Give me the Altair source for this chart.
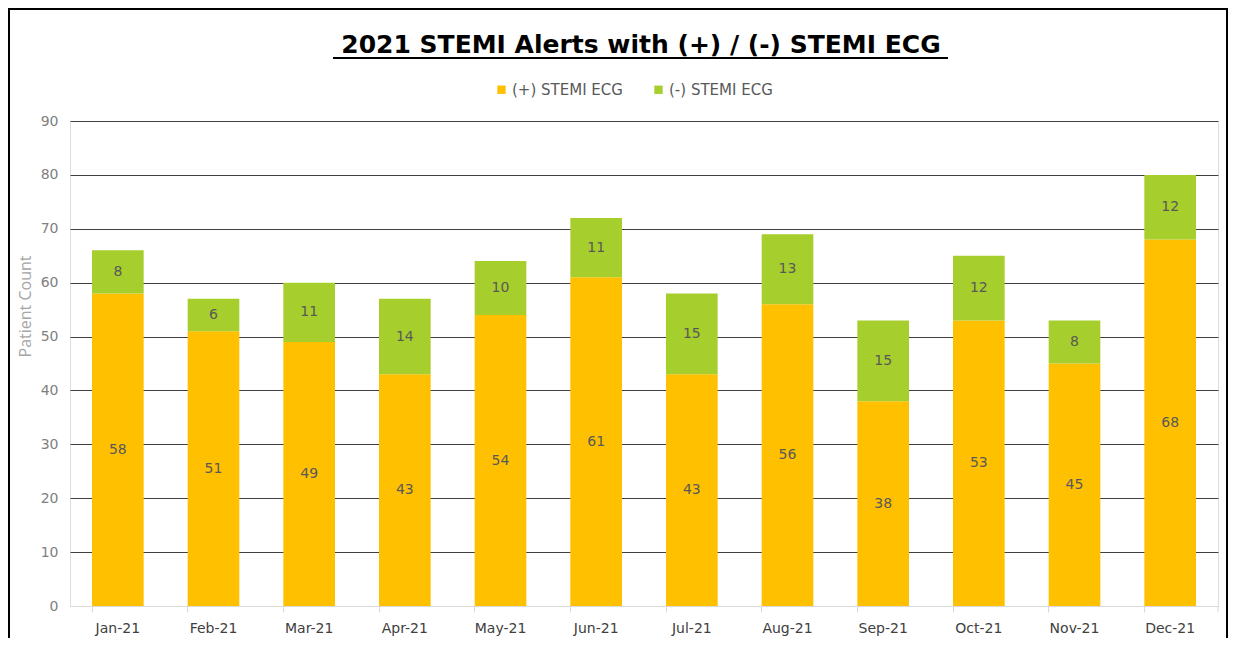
import altair as alt
import pandas as pd

months = ["Jan-21", "Feb-21", "Mar-21", "Apr-21", "May-21", "Jun-21",
          "Jul-21", "Aug-21", "Sep-21", "Oct-21", "Nov-21", "Dec-21"]
positive = [58, 51, 49, 43, 54, 61, 43, 56, 38, 53, 45, 68]
negative = [8, 6, 11, 14, 10, 11, 15, 13, 15, 12, 8, 12]
series_names = ["(+) STEMI ECG", "(-) STEMI ECG"]
series_colors = ["#FFC000", "#A6CE2C"]
y_ticks = [0, 10, 20, 30, 40, 50, 60, 70, 80, 90]
title_text = "2021 STEMI Alerts with (+) / (-) STEMI ECG"

rows = []
for m, p, n in zip(months, positive, negative):
    rows.append({"month": m, "series": series_names[0], "value": p, "ord": 0})
    rows.append({"month": m, "series": series_names[1], "value": n, "ord": 1})
df = pd.DataFrame(rows)

W, H = 1148, 485
FONT = "DejaVu Sans"

x_enc = alt.X("month:N", sort=months, title=None,
              scale=alt.Scale(paddingInner=0.46, paddingOuter=0.23),
              axis=alt.Axis(labelAngle=0, labelColor="#404040", labelFontSize=14,
                            labelFont=FONT, labelPadding=9,
                            domainColor="#d9d9d9", tickColor="#d9d9d9",
                            tickSize=6, bandPosition=0, grid=False))

base = alt.Chart(df).transform_stack(
    stack="value", groupby=["month"], sort=[alt.SortField("ord")], as_=["v0", "v1"]
).transform_calculate(mid="(datum.v0 + datum.v1) / 2")

bars = base.mark_bar().encode(
    x=x_enc,
    y=alt.Y("v0:Q", title="Patient Count",
            scale=alt.Scale(domain=[0, 90], nice=False),
            axis=alt.Axis(values=y_ticks, labelColor="#808080", labelFontSize=14,
                          labelFont=FONT, labelPadding=12, ticks=False, domain=False,
                          gridColor={"condition": {"test": "datum.value === 0", "value": "#d9d9d9"},
                                     "value": "#404040"},
                          gridWidth=1,
                          titleColor="#A6A6A6", titleFont="Open Sans", titleFontSize=16,
                          titleFontWeight="normal", titleX=-45, titleY=185,
                          titleAngle=270, titleAlign="center", titleBaseline="middle")),
    y2="v1:Q",
    color=alt.Color("series:N", sort=series_names,
                    scale=alt.Scale(domain=series_names, range=series_colors),
                    legend=alt.Legend(title=None, orient="none", direction="horizontal",
                                      legendX=424, legendY=-39, symbolType="square",
                                      symbolSize=70, symbolStrokeWidth=0,
                                      labelFont=FONT, labelFontSize=15, labelColor="#595959",
                                      labelOffset=3, columnPadding=28)),
)

labels = base.mark_text(font=FONT, fontSize=14, color="#595959").encode(
    x=alt.X("month:N", sort=months),
    y=alt.Y("mid:Q"),
    text=alt.Text("value:Q"),
)

title_df = pd.DataFrame({"t": [title_text]})
title_mark = alt.Chart(title_df).mark_text(
    font=FONT, fontSize=25, fontWeight="bold", color="black",
    align="center", baseline="alphabetic"
).encode(text="t:N", x=alt.value(571), y=alt.value(-68))
underline = alt.Chart(title_df).mark_rule(color="black", strokeWidth=2).encode(
    x=alt.value(263), x2=alt.value(878), y=alt.value(-63)
)
border = alt.Chart(title_df).mark_rect(fill=None, stroke="black", strokeWidth=2).encode(
    x=alt.value(-61), x2=alt.value(1157), y=alt.value(-112), y2=alt.value(560)
)
end_tick = alt.Chart(title_df).mark_rule(color="#d9d9d9", strokeWidth=1).encode(
    x=alt.value(W), y=alt.value(H), y2=alt.value(H + 6)
)

chart = alt.layer(bars, labels, title_mark, underline, border, end_tick).properties(
    width=W, height=H,
    autosize=alt.AutoSizeParams(type="none"),
    padding={"left": 62, "top": 113, "right": 10, "bottom": 32},
).configure_view(stroke=None).configure(background="white")

chart.save("out.html", embed_options={"renderer": "svg", "actions": False})
